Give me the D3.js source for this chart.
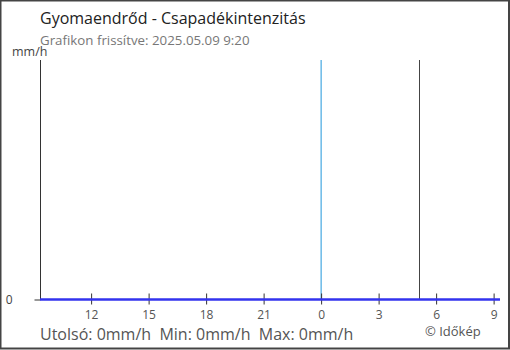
<!DOCTYPE html>
<html>
<head>
<meta charset="utf-8">
<script src="https://cdn.jsdelivr.net/npm/d3@7"></script>
<style>
  body { margin: 0; background: #fff; }
  svg { display: block; font-family: "Open Sans", "Noto Sans", sans-serif; }
</style>
</head>
<body>
<div id="chart"></div>
<script>
// adatok
var title = "Gyomaendrőd - Csapadékintenzitás";
var subtitle = "Grafikon frissítve: 2025.05.09 9:20";
var startTime = "2025-05-08T09:20";
var endTime = "2025-05-09T09:20";
var midnight = "2025-05-09T00:00";
var sunrise = "2025-05-09T05:06";
// csapadékintenzitás óránként (mm/h), 9:20-tól 9:20-ig
var rainValues = [0, 0, 0, 0, 0, 0, 0, 0, 0, 0, 0, 0, 0, 0, 0, 0, 0, 0, 0, 0, 0, 0, 0, 0, 0];
var tickHours = ["2025-05-08T12:00", "2025-05-08T15:00", "2025-05-08T18:00", "2025-05-08T21:00",
                 "2025-05-09T00:00", "2025-05-09T03:00", "2025-05-09T06:00", "2025-05-09T09:00"];
var yTicks = [0];
var stats = "Utolsó: 0mm/h  Min: 0mm/h  Max: 0mm/h";

var W = 510, H = 350;
var parse = d3.isoParse;

var svg = d3.select('#chart').append('svg')
    .attr('width', W)
    .attr('height', H);

// keret
svg.append('rect')
    .attr('x', 0.5).attr('y', 0.5)
    .attr('width', W - 1.5).attr('height', H - 2)
    .attr('fill', 'none')
    .attr('stroke', '#444')
    .attr('stroke-width', 2);

var x = d3.scaleTime()
    .domain([parse(startTime), parse(endTime)])
    .range([40, 500]);

var y = d3.scaleLinear()
    .domain([0, 1])
    .range([299.5, 60]);

var t0 = parse(startTime).getTime();
var rain = rainValues.map(function(v, i) {
  return { t: new Date(t0 + i * 3600 * 1000), v: v };
});

// címek
svg.append('text')
    .attr('x', 40).attr('y', 24)
    .attr('font-size', 16)
    .attr('fill', '#222')
    .text(title);

svg.append('text')
    .attr('x', 40).attr('y', 45)
    .attr('font-size', 13.3)
    .attr('fill', '#777')
    .text(subtitle);

svg.append('text')
    .attr('x', 12).attr('y', 56)
    .attr('font-size', 12.5)
    .attr('fill', '#444')
    .text('mm/h');

// éjfél és napkelte
svg.append('line')
    .attr('x1', x(parse(midnight))).attr('x2', x(parse(midnight)))
    .attr('y1', y(1)).attr('y2', y(0))
    .attr('stroke', '#1f97db')
    .attr('stroke-width', 1);

svg.append('line')
    .attr('x1', Math.round(x(parse(sunrise))) + 0.5).attr('x2', Math.round(x(parse(sunrise))) + 0.5)
    .attr('y1', y(1)).attr('y2', y(0))
    .attr('stroke', '#444')
    .attr('stroke-width', 1);

// y tengely
var yAxis = svg.append('g')
    .attr('transform', 'translate(40.5,0)')
    .call(d3.axisLeft(y).tickValues(yTicks).tickSize(6).tickPadding(22).tickFormat(d3.format('d')));
yAxis.select('.domain').attr('stroke', '#333').attr('d', 'M0,' + y(1) + 'V' + y(0));
yAxis.selectAll('.tick line').attr('stroke', '#333');
yAxis.selectAll('.tick text')
    .attr('font-size', 12).attr('fill', '#444')
    .attr('font-family', '"Open Sans", "Noto Sans", sans-serif');

// x tengely
var xAxis = svg.append('g')
    .attr('transform', 'translate(0,' + y(0) + ')')
    .call(d3.axisBottom(x)
      .tickValues(tickHours.map(parse))
      .tickSize(5)
      .tickPadding(6)
      .tickFormat(d3.timeFormat('%-H')));
xAxis.select('.domain').remove();
xAxis.selectAll('.tick line').attr('stroke', '#333').attr('y1', -6).attr('y2', 5);
xAxis.selectAll('.tick text')
    .attr('font-size', 12).attr('fill', '#555')
    .attr('font-family', '"Open Sans", "Noto Sans", sans-serif');

// csapadék vonal
svg.append('path')
    .datum(rain)
    .attr('fill', 'none')
    .attr('stroke', '#3333ee')
    .attr('stroke-width', 2.5)
    .attr('d', d3.line().x(function(d) { return x(d.t); }).y(function(d) { return y(d.v); }));

// alsó sor
svg.append('text')
    .attr('x', 40).attr('y', 340)
    .attr('font-size', 16)
    .attr('fill', '#555')
    .attr('xml:space', 'preserve')
    .style('white-space', 'pre')
    .text(stats);

svg.append('text')
    .attr('x', 425).attr('y', 336)
    .attr('font-size', 13)
    .attr('fill', '#555')
    .text('© Időkép');
</script>
</body>
</html>
